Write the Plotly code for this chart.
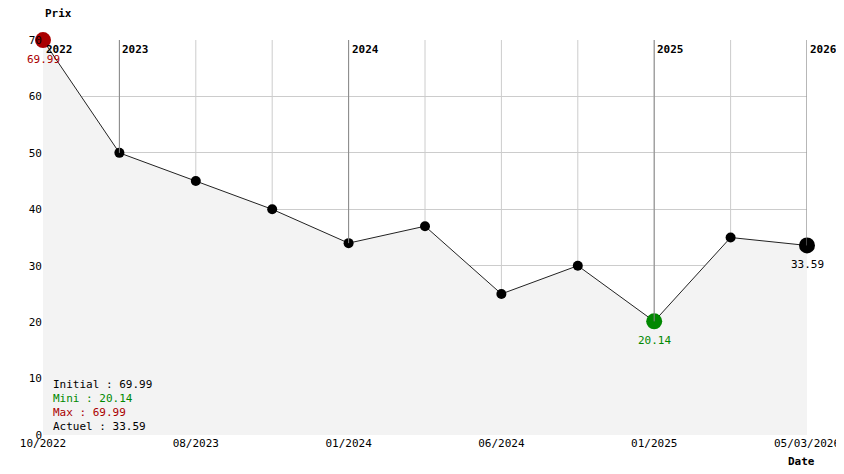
import plotly.graph_objects as go

idx = list(range(11))
prices = [69.99, 50, 45, 40, 34, 37, 25, 30, 20.14, 35, 33.59]
tick_pos = [0, 2, 4, 6, 8, 10]
tick_labels = ["10/2022", "08/2023", "01/2024", "06/2024", "01/2025", "05/03/2026"]
year_pos = [0, 1, 4, 8, 10]
year_labels = ["2022", "2023", "2024", "2025", "2026"]

F = "DejaVu Sans Mono"
fig = go.Figure()
for i in idx:
    fig.add_shape(type="line", x0=i, x1=i, y0=0, y1=70, line=dict(color="#cccccc", width=1), layer="below")
fig.add_trace(go.Scatter(x=idx, y=prices, mode="lines", fill="tozeroy",
                         fillcolor="#f3f3f3", line=dict(color="#222", width=1), hoverinfo="skip"))
for k, p in enumerate(year_pos):
    fig.add_shape(type="line", x0=p, x1=p, y0=prices[p], y1=70, line=dict(color="#888", width=1))
    fig.add_annotation(x=p, y=70, text="<b>" + year_labels[k] + "</b>",
                       showarrow=False, xanchor="left", yanchor="top", xshift=1, yshift=-1,
                       font=dict(family=F, size=11, color="black"))
sizes = [10] * 11
colors = ["black"] * 11
imin = prices.index(min(prices)); imax = prices.index(max(prices))
sizes[imin] = 16; colors[imin] = "#008800"
sizes[imax] = 16; colors[imax] = "#aa0000"
sizes[-1] = 16
fig.add_trace(go.Scatter(x=idx, y=prices, mode="markers", cliponaxis=False,
                         marker=dict(size=sizes, color=colors, opacity=1, line=dict(width=0)),
                         hoverinfo="skip"))
for i, c in [(imax, "#aa0000"), (imin, "#008800"), (10, "black")]:
    fig.add_annotation(x=i, y=prices[i], text=f"{prices[i]:.2f}", showarrow=False,
                       yshift=-19, font=dict(family=F, size=11, color=c))
legend = [("Initial : %.2f" % prices[0], "black"), ("Mini : %.2f" % min(prices), "#008800"),
          ("Max : %.2f" % max(prices), "#aa0000"), ("Actuel : %.2f" % prices[-1], "black")]
for k, (t, c) in enumerate(legend):
    fig.add_annotation(x=0.1, y=0, xref="x", yref="y", text=t, showarrow=False,
                       xanchor="left", yanchor="bottom", yshift=(3 - k) * 14,
                       font=dict(family=F, size=11, color=c))
fig.add_annotation(x=0, y=1, xref="paper", yref="paper", text="<b>Prix</b>", showarrow=False,
                   xanchor="left", yanchor="bottom", yshift=18, font=dict(family=F, size=11))
fig.add_annotation(x=1, y=0, xref="paper", yref="paper", text="<b>Date</b>", showarrow=False,
                   xanchor="right", yanchor="top", yshift=-18, xshift=10, font=dict(family=F, size=11))
fig.update_layout(width=844, height=474, margin=dict(l=33, r=43, t=32, b=47),
                  plot_bgcolor="white", paper_bgcolor="white", showlegend=False,
                  font=dict(family=F, size=11, color="black"))
fig.update_xaxes(range=[0, 10], tickvals=tick_pos, ticktext=tick_labels, tickmode="array",
                 showgrid=False, zeroline=False, ticks="", showline=False)
fig.update_yaxes(range=[0, 70], dtick=10, showgrid=True, gridcolor="#cccccc", zeroline=False,
                 ticks="", showline=False)
fig.write_html("out.html")
